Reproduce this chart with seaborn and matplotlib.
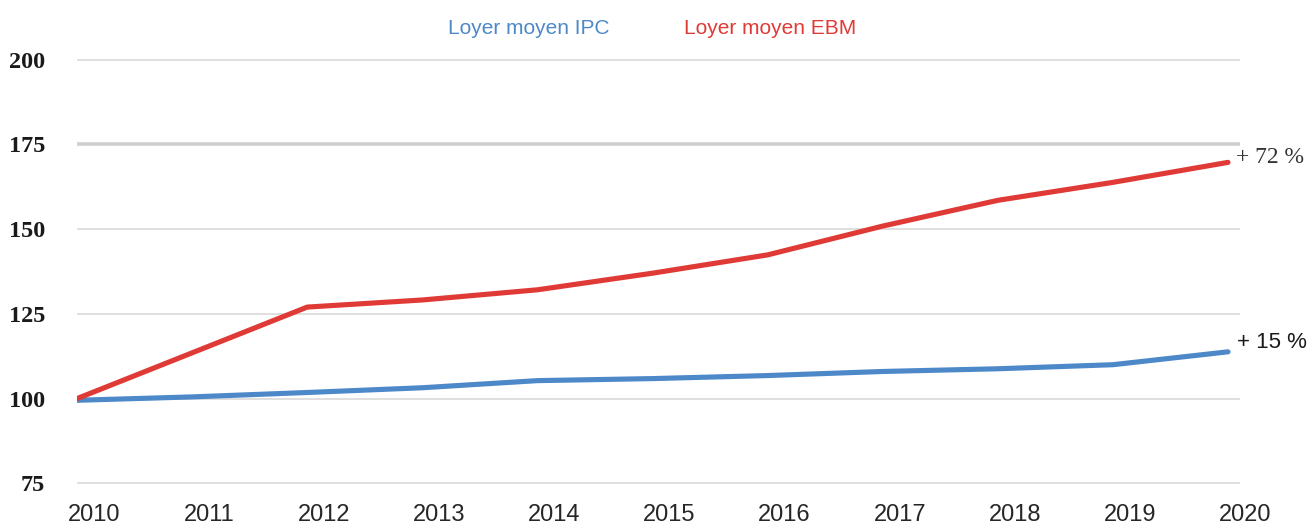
import matplotlib

matplotlib.use("Agg")
import matplotlib.pyplot as plt
import matplotlib.transforms as mtransforms
import pandas as pd
import seaborn as sns

# values (index, 2010 = 100)
years = [2010, 2011, 2012, 2013, 2014, 2015, 2016, 2017, 2018, 2019, 2020]
loyer_ipc = [99.5, 100.5, 101.8, 103.2, 105.3, 105.9, 106.8, 108.0, 108.8, 110.0, 113.8]
loyer_ebm = [100.0, 113.5, 127.0, 129.1, 132.1, 137.0, 142.4, 150.9, 158.5, 163.8, 169.7]
y_ticks = [75, 100, 125, 150, 175, 200]
label_ipc = "Loyer moyen IPC"
label_ebm = "Loyer moyen EBM"
note_ipc = "+ 15 %"
note_ebm = "+ 72 %"

BLUE = "#4d88c9"
RED = "#e03a36"
GRID = "#d9d9d9"

sns.set_style("white")
plt.rcParams["font.family"] = ["Liberation Sans", "DejaVu Sans"]

df = pd.DataFrame({"annee": years, "ipc": loyer_ipc, "ebm": loyer_ebm})

fig = plt.figure(figsize=(13.1, 5.28), dpi=100)
ax = fig.add_axes([77 / 1310, 1 - 484 / 528, (1240 - 77) / 1310, (484 - 59) / 528])

sns.lineplot(data=df, x="annee", y="ipc", ax=ax, color=BLUE, linewidth=3.7,
             label=label_ipc, solid_capstyle="round", solid_joinstyle="round", zorder=3)
sns.lineplot(data=df, x="annee", y="ebm", ax=ax, color=RED, linewidth=3.7,
             label=label_ebm, solid_capstyle="round", solid_joinstyle="round", zorder=4)

ax.set_xlim(2010, 2010 + 10 * (1240 - 77) / (1228 - 77))
ax.set_ylim(74.8, 200.2)
ax.set_yticks(y_ticks)
ax.set_xticks(years)
ax.set_xticklabels([str(y) for y in years])
ax.set_xlabel("")
ax.set_ylabel("")

# horizontal grid, the 175 line is drawn heavier in the original
ax.grid(axis="y", color=GRID, linewidth=1.2, zorder=0)
ax.grid(axis="x", visible=False)
ax.axhline(175, color="#cfcfcf", linewidth=2.6, zorder=1)
for side in ["top", "right", "left", "bottom"]:
    ax.spines[side].set_visible(False)

ax.tick_params(axis="y", length=0, pad=23)
ax.tick_params(axis="x", length=0, pad=14.5)
for lab in ax.get_yticklabels():
    lab.set_fontfamily(["Liberation Serif", "DejaVu Serif"])
    lab.set_fontweight("bold")
    lab.set_fontsize(17.5)
    lab.set_color("#1a1a1a")
shift = mtransforms.ScaledTranslation(17 / 100, 0, fig.dpi_scale_trans)
for lab in ax.get_xticklabels():
    lab.set_fontsize(17)
    lab.set_color("#262626")
    lab.set_transform(lab.get_transform() + shift)

ax.annotate(note_ebm, xy=(years[-1], loyer_ebm[-1]), xytext=(8, 5),
            textcoords="offset pixels", ha="left", va="center", fontsize=17,
            family=["Liberation Serif", "DejaVu Serif"], color="#333333")
ax.annotate(note_ipc, xy=(years[-1], loyer_ipc[-1]), xytext=(9, 9),
            textcoords="offset pixels", ha="left", va="center", fontsize=16,
            color="#1a1a1a")

leg = ax.legend(loc="center", bbox_to_anchor=(652 / 1310, 1 - 28 / 528),
                bbox_transform=fig.transFigure, ncol=2, frameon=False,
                handlelength=0, handletextpad=0, columnspacing=3.6,
                fontsize=15, labelcolor="linecolor")
for h in leg.legend_handles:
    h.set_visible(False)

fig.savefig("out.png", dpi=100)
